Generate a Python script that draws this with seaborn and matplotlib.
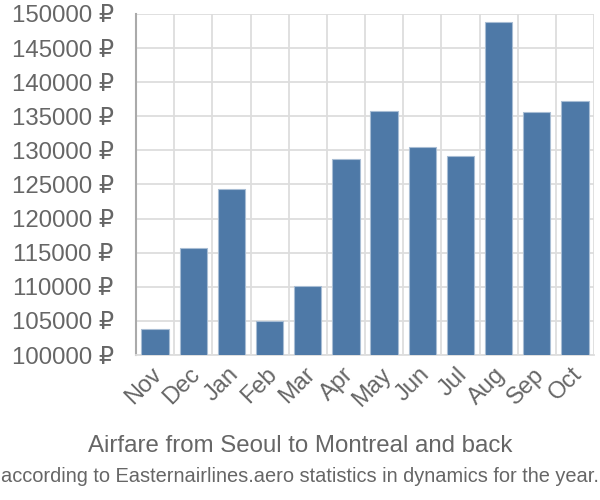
import matplotlib
matplotlib.use("Agg")
import matplotlib.pyplot as plt
import matplotlib.transforms as mtransforms
import seaborn as sns
import numpy as np
from matplotlib.ticker import FuncFormatter, FixedLocator

months = ["Nov", "Dec", "Jan", "Feb", "Mar", "Apr", "May", "Jun", "Jul", "Aug", "Sep", "Oct"]
prices = [103860, 115730, 124300, 104940, 110070, 128800, 135800, 130450, 129180, 148780, 135630, 137240]
y_ticks = [100000, 105000, 110000, 115000, 120000, 125000, 130000, 135000, 140000, 145000, 150000]
title = "Airfare from Seoul to Montreal and back"
subtitle = "according to Easternairlines.aero statistics in dynamics for the year."

sns.set_style("white")
plt.rcParams['font.family'] = ['Liberation Sans', 'DejaVu Sans']

fig = plt.figure(figsize=(6, 5), dpi=100)
ax = fig.add_axes([136/600, 1 - 355/500, (594 - 136)/600, (355 - 14)/500])

sns.barplot(x=months, y=prices, color="#4e79a7", width=0.72,
            edgecolor="#a8bdd4", linewidth=0.8, saturation=1, ax=ax, zorder=3)

ax.set_ylim(100000, 150000)
ax.set_xlim(-0.5, len(months) - 0.5)
ax.yaxis.set_major_locator(FixedLocator(y_ticks))
ax.yaxis.set_major_formatter(FuncFormatter(lambda v, p: f"{int(v)} ₽"))

# vertical grid at category boundaries
ax.set_xticks(np.arange(-0.5, len(months), 1.0), minor=True)
ax.grid(True, which="minor", axis="x", color="#dddddd", linewidth=1.3, zorder=0)
ax.grid(True, which="major", axis="y", color="#dddddd", linewidth=1.3, zorder=0)
ax.set_axisbelow(True)

ax.tick_params(axis="x", which="major", length=0, labelsize=17, labelcolor="#666666", pad=6)
ax.tick_params(axis="x", which="minor", length=13, color="#dddddd", width=1.3)
ax.tick_params(axis="y", which="major", length=14, color="#dddddd", width=1.3,
               labelsize=17.3, labelcolor="#666666", pad=2)
offset = mtransforms.ScaledTranslation(-4/100, 0, fig.dpi_scale_trans)
for lab in ax.get_xticklabels():
    lab.set_rotation(45)
    lab.set_ha("right")
    lab.set_rotation_mode("anchor")
    lab.set_transform(lab.get_transform() + offset)

for s in ["top", "right"]:
    ax.spines[s].set_visible(False)
ax.spines["left"].set_color("#aaaaaa")
ax.spines["left"].set_linewidth(1.5)
ax.spines["bottom"].set_color("#dddddd")
ax.spines["bottom"].set_linewidth(1.3)
ax.set_xlabel("")
ax.set_ylabel("")

fig.text(0.5, 1 - 446/500, title, ha="center", va="center", fontsize=17.3, color="#666666")
fig.text(0.5, 1 - 476/500, subtitle, ha="center", va="center", fontsize=14.4, color="#666666")

fig.savefig("out.png", dpi=100)
